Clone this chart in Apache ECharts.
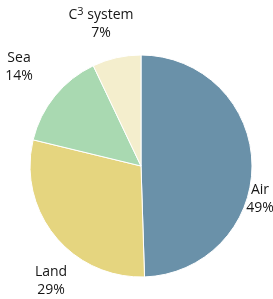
<!DOCTYPE html>
<html>
<head>
<meta charset="utf-8">
<script src="https://cdn.jsdelivr.net/npm/echarts@6/dist/echarts.min.js"></script>
<style>
html, body { margin: 0; padding: 0; background: #fff; }
#chart { width: 273px; height: 299px; }
</style>
</head>
<body>
<div id="chart"></div>
<script>
var names = ['Air', 'Land', 'Sea', 'C3 system'];
var values = [49, 29, 14, 7];
var colors = ['#6a91a9', '#e5d57f', '#a9d9b1', '#f4eecd'];
// label centre points
var labelPos = [[260, 199], [51, 281], [19, 67], [101, 24]];

var myChart = echarts.init(document.getElementById('chart'));

var labelGraphics = names.map(function (n, i) {
  var head = i === 3 ? 'C{sup|3} system' : n;
  return {
    type: 'text',
    x: labelPos[i][0],
    y: labelPos[i][1],
    style: {
      text: head + '\n' + values[i] + '%',
      align: 'center',
      verticalAlign: 'middle',
      fill: '#161616',
      font: '500 14px "Open Sans"',
      lineHeight: 18,
      rich: {
        sup: { fontSize: 11, verticalAlign: 'top', fill: '#161616', fontFamily: 'Open Sans', padding: [0, 0, 8, 0] }
      }
    }
  };
});

var option = {
  animation: false,
  graphic: labelGraphics,
  series: [{
    type: 'pie',
    center: [141, 166],
    radius: [0, 111],
    startAngle: 90,
    clockwise: true,
    itemStyle: { borderColor: '#fff', borderWidth: 1 },
    label: { show: false },
    labelLine: { show: false },
    data: names.map(function (n, i) {
      return { name: n, value: values[i], itemStyle: { color: colors[i] } };
    })
  }]
};

option && myChart.setOption(option);
</script>
</body>
</html>
